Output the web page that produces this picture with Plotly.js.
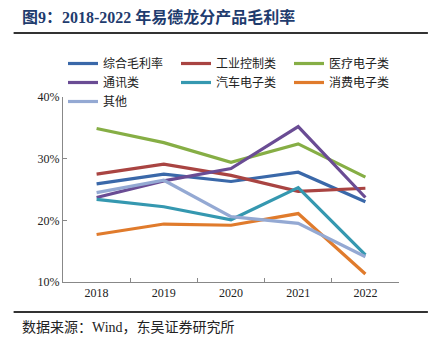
<!DOCTYPE html>
<html>
<head>
<meta charset="utf-8">
<script src="https://cdn.plot.ly/plotly-3.0.1.min.js"></script>
<style>html,body{margin:0;padding:0;background:#fff;}#chart{width:435px;height:353px;}</style>
</head>
<body>
<div id="chart"></div>
<script>
const years = ['2018', '2019', '2020', '2021', '2022'];
const seriesNames = ['综合毛利率', '工业控制类', '医疗电子类', '通讯类', '汽车电子类', '消费电子类', '其他'];
const zongheValues = [25.9, 27.5, 26.3, 27.8, 23.0];
const gongkongValues = [27.5, 29.1, 27.3, 24.7, 25.2];
const yiliaoValues = [34.9, 32.6, 29.4, 32.4, 27.0];
const tongxunValues = [23.7, 26.4, 28.4, 35.2, 23.7];
const qicheValues = [23.4, 22.2, 20.1, 25.3, 14.4];
const xiaofeiValues = [17.7, 19.4, 19.2, 21.1, 11.3];
const qitaValues = [24.5, 26.5, 20.6, 19.5, 14.1];
const yTickVals = [10, 20, 30, 40];

const colors = ['#3A68A9', '#A94442', '#86AE45', '#6A4C94', '#3598B0', '#E07B2C', '#94A9D3'];
const allValues = [zongheValues, gongkongValues, yiliaoValues, tongxunValues, qicheValues, xiaofeiValues, qitaValues];

const traces = seriesNames.map((name, i) => ({
  type: 'scatter', mode: 'lines', name: name,
  x: years, y: allValues[i],
  line: {color: colors[i], width: 3.2},
  hoverinfo: 'skip'
}));

const serif = '"Liberation Serif", "Times New Roman", "Noto Sans CJK SC", serif';
const layout = {
  width: 435, height: 353,
  margin: {l: 63, r: 36, t: 97, b: 71, autoexpand: false},
  paper_bgcolor: '#fff', plot_bgcolor: '#fff',
  showlegend: true,
  legend: {
    orientation: 'h', x: 63 / 435, xanchor: 'left', y: 1 - 49 / 353, yanchor: 'top',
    xref: 'container', yref: 'container',
    entrywidth: 68, entrywidthmode: 'pixels',
    font: {family: '"Noto Sans CJK SC", sans-serif', size: 12, color: '#222'},
    itemwidth: 30, tracegroupgap: 0, bgcolor: 'rgba(0,0,0,0)'
  },
  xaxis: {
    type: 'category', range: [-0.5, 4.5],
    showline: true, linecolor: '#888', linewidth: 1,
    ticks: 'inside', ticklen: 4, tickcolor: '#888', tickson: 'boundaries',
    showgrid: false, zeroline: false,
    tickfont: {family: serif, size: 12, color: '#222'}
  },
  yaxis: {
    range: [10, 40], tickvals: yTickVals, ticktext: yTickVals.map(v => v + '%'),
    showline: true, linecolor: '#888', linewidth: 1,
    ticks: 'inside', ticklen: 4, tickcolor: '#888',
    showgrid: false, zeroline: false,
    tickfont: {family: serif, size: 12, color: '#222'}
  },
  shapes: [
    {type: 'line', xref: 'paper', yref: 'paper', x0: -0.147, x1: 1.086, y0: 1.346, y1: 1.346, line: {color: '#333', width: 2}},
    {type: 'line', xref: 'paper', yref: 'paper', x0: -0.147, x1: 1.086, y0: -0.162, y1: -0.162, line: {color: '#333', width: 2}}
  ],
  annotations: [
    {xref: 'paper', yref: 'paper', x: -0.128, y: 1.43, xanchor: 'left', yanchor: 'middle', showarrow: false,
     text: '<b>图9：2018-2022 年易德龙分产品毛利率</b>',
     font: {family: serif, size: 16, color: '#1F3C6E'}},
    {xref: 'paper', yref: 'paper', x: -0.128, y: -0.245, xanchor: 'left', yanchor: 'middle', showarrow: false,
     text: '数据来源：Wind，东吴证券研究所',
     font: {family: serif, size: 14, color: '#222'}}
  ]
};

Plotly.newPlot('chart', traces, layout, {displayModeBar: false, staticPlot: true});
</script>
</body>
</html>
